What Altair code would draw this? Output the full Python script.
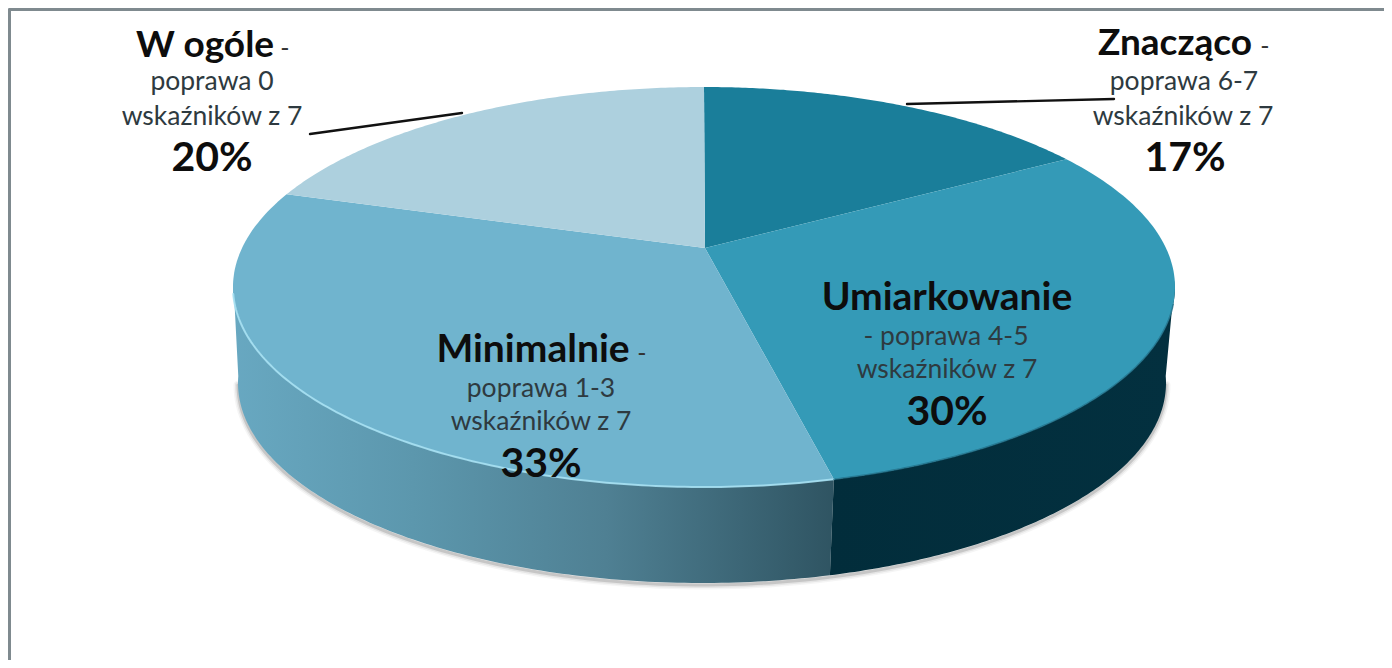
import numpy as np
import pandas as pd
import altair as alt

# ---- values ----
categories = ["Znacząco", "Umiarkowanie", "Minimalnie", "W ogóle"]
shares = [17, 30, 33, 20]
details = ["poprawa 6-7", "- poprawa 4-5", "poprawa 1-3", "poprawa 0"]
second_line = ["wskaźników z 7"] * 4
rim_edges_deg = [0, 50.3, 164, 297.6, 360]  # where each slice meets the rim, clockwise from the top
slice_colors = ["#1a7e9a", "#349ab7", "#70b4ce", "#add0de"]

# ---- drawing geometry (image pixels) ----
CX, CY, RX, RY = 704, 287, 471, 200
BX, BY, BRX, BRY = 702, 383, 464, 200
APEX = (705, 248)
W, H = 1376, 652
xs = alt.Scale(domain=[8, 8 + W], nice=False, zero=False)
ys = alt.Scale(domain=[8 + H, 8], nice=False, zero=False)
X = alt.X("x:Q", scale=xs, axis=None)
Y = alt.Y("y:Q", scale=ys, axis=None)


def rim(t0, t1, n=120, top=True):
    t = np.radians(np.linspace(t0, t1, n))
    if top:
        return CX + RX * np.sin(t), CY - RY * np.cos(t)
    return BX + BRX * np.sin(t), BY - BRY * np.cos(t)


def poly(xv, yv):
    return pd.DataFrame({"x": xv, "y": yv, "i": np.arange(len(xv))})


def shape(df, fill):
    return alt.Chart(df).mark_line(fill=fill, stroke="transparent", strokeWidth=0).encode(
        x=X, y=Y, order="i:Q"
    )


def stroke(df, color, width, opacity=1.0):
    return alt.Chart(df).mark_line(
        color=color, strokeWidth=width, opacity=opacity, strokeCap="round"
    ).encode(x=X, y=Y, order="i:Q")


layers = []

# soft shadow under the wall
xa, ya = rim(90, 270, top=False)
for w, op in [(9, 0.06), (6, 0.10), (3, 0.22)]:
    layers.append(stroke(poly(xa, ya + 2), "#5a5a5a", w, op))

# side wall
SPLIT = rim_edges_deg[2]
xt, yt = rim(SPLIT, 272)
xb, yb = rim(272, SPLIT, top=False)
left_fill = alt.Gradient(
    gradient="linear", x1=0, x2=1, y1=0, y2=0,
    stops=[
        alt.GradientStop(color="#68a8c1", offset=0),
        alt.GradientStop(color="#5c97ad", offset=0.3),
        alt.GradientStop(color="#4f8093", offset=0.62),
        alt.GradientStop(color="#2f5462", offset=1),
    ],
)
layers.append(shape(poly(np.r_[xt, xb], np.r_[yt, yb]), left_fill))
xt, yt = rim(88, SPLIT)
xb, yb = rim(SPLIT, 88, top=False)
right_fill = alt.Gradient(
    gradient="linear", x1=0, x2=1, y1=0, y2=0,
    stops=[
        alt.GradientStop(color="#022d3b", offset=0),
        alt.GradientStop(color="#03303f", offset=1),
    ],
)
layers.append(shape(poly(np.r_[xt, xb], np.r_[yt, yb]), right_fill))

# top of the pie
for k, cat in enumerate(categories):
    xr, yr = rim(rim_edges_deg[k], rim_edges_deg[k + 1])
    layers.append(shape(poly(np.r_[APEX[0], xr], np.r_[APEX[1], yr]), slice_colors[k]))

# bevel highlight along the front rim
xr, yr = rim(SPLIT, 268)
layers.append(stroke(poly(xr, yr), "#a6e0f2", 2, 0.9))
xr, yr = rim(95, SPLIT)
layers.append(stroke(poly(xr, yr), "#1f6f88", 1.5, 0.8))

# frame
layers.append(stroke(pd.DataFrame({"x": [9.5, 9.5], "y": [8 + H, 9.5], "i": [0, 1]}), "#7f8a8f", 3))
layers.append(stroke(pd.DataFrame({"x": [9.5, 8 + W], "y": [9.5, 9.5], "i": [0, 1]}), "#7f8a8f", 3))

# leader lines
layers.append(stroke(pd.DataFrame({"x": [310, 462], "y": [134, 113], "i": [0, 1]}), "#111111", 2.4))
layers.append(stroke(pd.DataFrame({"x": [907, 1114], "y": [104, 99], "i": [0, 1]}), "#111111", 2.4))

# labels: (x, y baseline) per line for each category
label_pos = {
    "Znacząco": [(1175, 55), (1265, 55), (1184, 90), (1183, 125), (1185, 171)],
    "Umiarkowanie": [(947, 310), None, (946, 345), (947, 378), (947, 425)],
    "Minimalnie": [(533, 362), (642, 362), (541, 397), (541, 430), (541, 477)],
    "W ogóle": [(205, 57), (285, 57), (212, 90), (212, 125), (212, 171)],
}
head_size = {"Znacząco": 37, "Umiarkowanie": 39, "Minimalnie": 39, "W ogóle": 37}
rows_dash, rows_sub, rows_pct = [], [], []
head_layers = []
for k, cat in enumerate(categories):
    p = label_pos[cat]
    head_layers.append(({"x": p[0][0], "y": p[0][1], "t": cat}, head_size[cat]))
    if p[1]:
        rows_dash.append({"x": p[1][0], "y": p[1][1], "t": "-"})
    rows_sub.append({"x": p[2][0], "y": p[2][1], "t": details[k]})
    rows_sub.append({"x": p[3][0], "y": p[3][1], "t": second_line[k]})
    rows_pct.append({"x": p[4][0], "y": p[4][1], "t": f"{shares[k]}%"})


def text(rows, size, bold, color):
    return alt.Chart(pd.DataFrame(rows)).mark_text(
        font="Lato", fontSize=size, fontWeight="bold" if bold else "normal",
        align="center", baseline="alphabetic", color=color,
    ).encode(x=X, y=Y, text="t:N")


layers += [text([r], s, True, "#0d0d0d") for r, s in head_layers]
layers += [
    text(rows_dash, 25, False, "#333333"),
    text(rows_sub, 26.5, False, "#2e3a40"),
    text(rows_pct, 41, True, "#0d0d0d"),
]

chart = (
    alt.layer(*layers)
    .properties(width=W, height=H, padding=0, background="white",
                autosize=alt.AutoSizeParams(type="none"))
    .configure_view(stroke=None)
)
chart.save("out.html", embed_options={"renderer": "svg", "actions": False})
